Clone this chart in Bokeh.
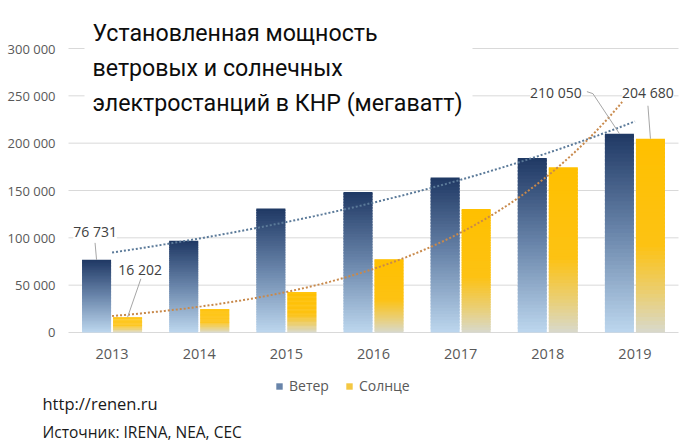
import numpy as np
from bokeh.plotting import figure
from bokeh.models import Range1d, Label, BoxAnnotation, Legend, LegendItem
from bokeh.core.properties import value
from bokeh.embed import file_html
from bokeh.resources import INLINE

# ---------------- data ----------------
years = ["2013", "2014", "2015", "2016", "2017", "2018", "2019"]
wind = [76731, 96800, 131000, 148500, 163800, 184300, 210050]
solar = [16202, 24800, 42800, 77400, 130500, 174600, 204680]
series_names = ["Ветер", "Солнце"]
y_ticks = [0, 50000, 100000, 150000, 200000, 250000, 300000]
y_tick_labels = ["0", "50 000", "100 000", "150 000", "200 000", "250 000", "300 000"]
title_lines = ["Установленная мощность", "ветровых и солнечных", "электростанций в КНР (мегаватт)"]
footer_url = "http://renen.ru"
footer_source = "Источник: IRENA, NEA, CEC"

# ---------------- layout / style ----------------
W, H = 700, 448
FL, FR, FT, FB = 68, 678, 48, 332      # plotting area (pixels) inside the canvas
Y_MAX = 300000
PXX = (FR - FL) / len(years)          # px per x unit
UPP = Y_MAX / (FB - FT)                # y data units per px
X0, X1 = -0.5, len(years) - 0.5
BAR_W = 0.333
OFF = 0.178
FONT = "Open Sans"
TITLE_FONT = "Roboto"

WIND_STOPS = [(0.0, "#1F3864"), (0.5, "#6A86AB"), (1.0, "#BDD7EE")]
SOLAR_STOPS = [(0.0, "#FFC000"), (0.55, "#FDC213"), (0.8, "#EACF74"), (1.0, "#D8D9CC")]


def hex2rgb(h):
    h = h.lstrip("#")
    return [int(h[i:i + 2], 16) for i in (0, 2, 4)]


def grad(stops, t):
    for (t0, c0), (t1, c1) in zip(stops[:-1], stops[1:]):
        if t <= t1:
            f = (t - t0) / (t1 - t0) if t1 > t0 else 0
            a, b = hex2rgb(c0), hex2rgb(c1)
            return "#%02x%02x%02x" % tuple(int(round(a[i] + (b[i] - a[i]) * f)) for i in range(3))
    return stops[-1][1]


N = 50


def gradient_bars(p, centers, values, stops):
    L, R, B, T, C = [], [], [], [], []
    for c, v in zip(centers, values):
        for k in range(N):
            L.append(c - BAR_W / 2)
            R.append(c + BAR_W / 2)
            B.append(v * k / N)
            T.append(v * min(k + 1.6, N) / N)
            C.append(grad(stops, 1 - (k + 0.5) / N))
    return p.quad(left=L, right=R, bottom=B, top=T, fill_color=C, line_color=None)


p = figure(width=W, height=H, output_backend="svg", toolbar_location=None, title=None,
           x_axis_location=None, y_axis_location=None,
           x_range=Range1d(X0 - FL / PXX, X1 + (W - FR) / PXX),
           y_range=Range1d(-(H - FB) * UPP, FB * UPP),
           min_border=0)
p.outline_line_color = None
p.grid.visible = False
p.background_fill_color = "white"
p.border_fill_color = "white"

idx = np.arange(len(years))
wind_x = idx - OFF
solar_x = idx + OFF

# grid lines and axis line
p.segment(x0=[X0] * len(y_ticks), x1=[X1] * len(y_ticks), y0=y_ticks, y1=y_ticks,
          line_color="#D9D9D9", line_width=1, level="underlay")

# y tick labels
p.text(x=[X0] * len(y_ticks), y=y_ticks, text=y_tick_labels, x_offset=-13,
       text_align="right", text_baseline="middle", text_font=value(FONT),
       text_font_size="13px", text_color="#595959")
# x tick labels
p.text(x=idx, y=[0] * len(years), text=years, y_offset=21,
       text_align="center", text_baseline="middle", text_font=value(FONT),
       text_font_size="14.5px", text_color="#595959")

# bars
r_w = gradient_bars(p, wind_x, wind, WIND_STOPS)
r_s = gradient_bars(p, solar_x, solar, SOLAR_STOPS)

# exponential trendlines
xs = np.linspace(0, len(years) - 1, 200)
for vals, col in ((wind, "#5B7A99"), (solar, "#C8894B")):
    coef = np.polyfit(idx, np.log(vals), 1)
    p.line(xs, np.exp(np.polyval(coef, xs)), line_color=col, line_width=2, line_dash="2 2")

# title background box (covers gridlines like the reference text box)
p.add_layout(BoxAnnotation(left=X0 + (84 - FL) / PXX, right=X0 + (472 - FL) / PXX,
                           bottom=(FB - 110) * UPP, top=FB * UPP,
                           fill_color="white", fill_alpha=1, line_alpha=0))

# data labels with leaders: (series x, values, index, label offset px, leader points px)
label_specs = [
    (wind_x, wind, 0, (-1.5, 28), [(0, 0), (-1.5, 17)]),
    (solar_x, solar, 0, (12.5, 48), [(0, 0), (13.5, 39)]),
    (wind_x, wind, 6, (-63.5, 41), [(0, 0), (-26.5, 40), (-32.5, 42)]),
    (solar_x, solar, 6, (-2.5, 46), [(0, 0), (-2.5, 33)]),
]
for cx, vals, i, (dx, dy), pts in label_specs:
    x0, v = cx[i], vals[i]
    p.line([x0 + a / PXX for a, b in pts], [v + b * UPP for a, b in pts],
           line_color="#A6A6A6", line_width=1)
    p.add_layout(Label(x=x0, y=v, x_offset=dx, y_offset=dy, text=f"{v:,}".replace(",", " "),
                       text_align="center", text_baseline="middle", text_font=FONT,
                       text_font_size="14px", text_color="#404040",
                       background_fill_color="white", background_fill_alpha=1))


def sx(cx):
    return cx


def sy(cy):
    return H - cy


for line, base in zip(title_lines, (32, 67, 102)):
    p.add_layout(Label(x=sx(92), y=sy(base), x_units="screen", y_units="screen", text=line,
                       text_align="left", text_baseline="alphabetic",
                       text_font=TITLE_FONT, text_font_size="23.2px",
                       text_color="#0d0d0d"))

p.add_layout(Label(x=sx(42), y=sy(403), x_units="screen", y_units="screen", text=footer_url,
                   text_align="left", text_baseline="middle", text_font=FONT,
                   text_font_size="16.5px", text_color="#1a1a1a"))
p.add_layout(Label(x=sx(42), y=sy(431), x_units="screen", y_units="screen", text=footer_source,
                   text_align="left", text_baseline="middle", text_font=FONT,
                   text_font_size="15.5px", text_color="#1a1a1a"))

# legend
legend = Legend(items=[LegendItem(label=series_names[0], renderers=[r_w], index=6 * N + N // 2),
                       LegendItem(label=series_names[1], renderers=[r_s], index=6 * N + N // 3)],
                orientation="horizontal", location=(sx(275), sy(395)),
                padding=0, margin=0, spacing=16, glyph_width=8, glyph_height=8,
                label_standoff=6, label_height=18,
                label_text_font=FONT, label_text_font_size="14px", label_text_color="#595959",
                border_line_color=None, background_fill_alpha=0)
p.add_layout(legend)

open("out.html", "w").write(file_html(p, INLINE))
